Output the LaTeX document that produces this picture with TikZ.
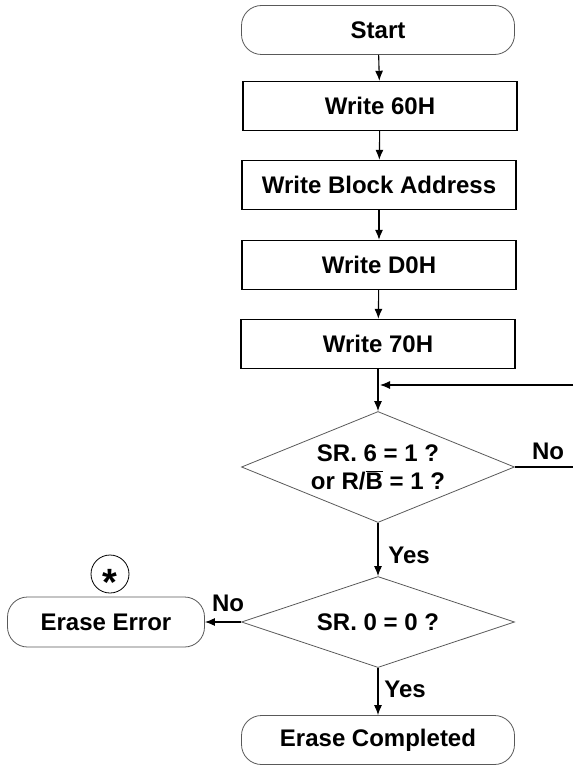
\documentclass[tikz,border=0pt]{standalone}
\usepackage{fontspec}
\setmainfont{Liberation Sans}
\usetikzlibrary{shapes.geometric,arrows.meta}
\begin{document}
\begin{tikzpicture}[x=1pt,y=-1pt,
  font=\fontsize{24}{28}\selectfont\bfseries,
  term/.style={draw=black!65, line width=0.8pt, rounded corners=20pt, minimum width=273pt, minimum height=49pt, inner sep=0pt},
  proc/.style={draw, line width=1.4pt, minimum width=274pt, minimum height=49pt, inner sep=0pt},
  dec/.style={diamond, draw=black!65, line width=0.8pt, aspect=2.46, inner sep=0pt, align=center, minimum width=273pt},
  arr/.style={-{Latex[length=10pt,width=8pt]}, line width=1.1pt}]
\useasboundingbox (0,0) rectangle (573,765);
\node[term] (tid0) at (378,30){Start};
\node[proc] (tid1) at (380,106){Write 60H};
\node[proc] (tid2) at (379,185){Write Block Address};
\node[proc] (tid3) at (379,265){Write D0H};
\node[proc] (tid4) at (378,344){Write 70H};
\node[dec, minimum height=111pt] (tid5) at (378,467){SR. 6 = 1 ?\\or R/$\overline{\mbox{B}}$ = 1 ?};
\node[dec, minimum height=91pt] (tid6) at (378,622){SR. 0 = 0 ?};
\node[term] (tid7) at (378,740){Erase Completed};
\node[term, minimum width=197pt, minimum height=50pt] (tid8) at (106,622){Erase Error};
\node[circle, draw, line width=0.8pt, minimum size=38pt, inner sep=0pt] (tid9) at (110,574){\fontsize{38}{38}\selectfont\raisebox{-0.57em}[0pt][0pt]{*}};
\coordinate (fb0) at (573,385);
\coordinate (fb1) at (380,385);
\coordinate (no0) at (573,467);
\draw[arr](tid0) -- (tid1);
\draw[arr](tid1) -- (tid2);
\draw[arr](tid2) -- (tid3);
\draw[arr](tid3) -- (tid4);
\draw[arr](tid4) -- (tid5);
\draw[arr](fb0) -- (fb1);
\draw[line width=2pt](tid5.east) -- (no0);
\node (lno1) at (548,451){No};
\draw[arr](tid5) -- (tid6);
\node (lyes1) at (409,555){Yes};
\draw[arr](tid6) -- (tid8);
\node (lno2) at (228,603){No};
\draw[arr](tid6) -- (tid7);
\node (lyes2) at (405,689){Yes};
\end{tikzpicture}
\end{document}
